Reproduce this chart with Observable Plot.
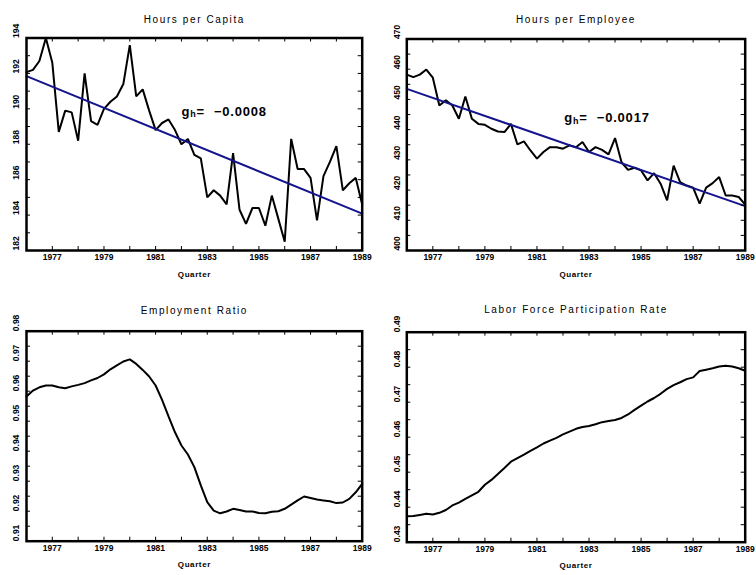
<!DOCTYPE html>
<html><head><meta charset="utf-8">
<script src="https://cdn.jsdelivr.net/npm/d3@7"></script>
<script src="https://cdn.jsdelivr.net/npm/@observablehq/plot@0.6"></script>
<style>
body{margin:0;background:#fff;}
#chart{position:relative;width:756px;height:575px;overflow:hidden;background:#fff;}
.panel{position:absolute;}
</style></head><body><div id="chart"></div>
<script>
// ---- data (quarterly, 1976Q1 .. 1989Q1) ----
const firstYear = 1976;
const quarterCount = 53;
const quarters = d3.range(quarterCount).map(i => firstYear + i / 4);

const hoursPerCapita = [
  192.07, 192.2, 192.7, 194.0,
  192.6, 188.7, 189.9, 189.8,
  188.2, 192.0, 189.3, 189.1,
  190.0, 190.4, 190.7, 191.4,
  193.6, 190.7, 191.1, 189.9,
  188.8, 189.2, 189.4, 188.8,
  188.0, 188.3, 187.4, 187.2,
  185.0, 185.4, 185.1, 184.6,
  187.5, 184.3, 183.5, 184.4,
  184.4, 183.4, 185.1, 183.8,
  182.5, 188.3, 186.6, 186.6,
  186.1, 183.7, 186.2, 187.0,
  187.9, 185.4, 185.8, 186.1,
  184.6
];
const hoursPerEmployee = [
  458.2, 457.4, 458.2, 459.9,
  457.2, 448.0, 449.7, 448.0,
  443.6, 451.0, 443.6, 441.9,
  441.6, 440.3, 439.4, 439.2,
  441.9, 435.1, 436.1, 433.1,
  430.4, 432.6, 434.2, 434.2,
  433.7, 434.8, 434.2, 435.9,
  432.6, 434.2, 433.3, 431.8,
  437.2, 429.2, 426.7, 427.4,
  426.5, 423.2, 425.6, 422.1,
  416.6, 428.1, 422.6, 421.5,
  420.8, 415.5, 420.8, 422.3,
  424.3, 418.2, 418.2, 417.7,
  415.2
];
const employmentRatio = [
  0.9582, 0.9602, 0.9613, 0.9619,
  0.9619, 0.9613, 0.9610, 0.9616,
  0.9621, 0.9627, 0.9636, 0.9644,
  0.9656, 0.9673, 0.9686, 0.9699,
  0.9706, 0.9691, 0.9671, 0.9649,
  0.9619, 0.9571, 0.9516, 0.9463,
  0.9419, 0.9389, 0.9347, 0.9286,
  0.9230, 0.9202, 0.9193, 0.9199,
  0.9208, 0.9204, 0.9199, 0.9199,
  0.9194, 0.9193, 0.9198, 0.9200,
  0.9208, 0.9222, 0.9236, 0.9249,
  0.9244, 0.9239, 0.9236, 0.9233,
  0.9227, 0.9229, 0.9241, 0.9263,
  0.9291
];
const laborForceRate = [
  0.4374, 0.4375, 0.4378, 0.4381,
  0.4379, 0.4384, 0.4392, 0.4405,
  0.4413, 0.4424, 0.4434, 0.4444,
  0.4464, 0.4478, 0.4495, 0.4512,
  0.4530, 0.4540, 0.4550, 0.4561,
  0.4571, 0.4582, 0.4590, 0.4598,
  0.4608, 0.4616, 0.4624, 0.4629,
  0.4632, 0.4637, 0.4643, 0.4646,
  0.4649, 0.4655, 0.4665, 0.4678,
  0.4690, 0.4702, 0.4712, 0.4724,
  0.4738, 0.4749, 0.4757, 0.4766,
  0.4771, 0.4789, 0.4793, 0.4797,
  0.4802, 0.4804, 0.4802, 0.4797,
  0.4790
];

// fitted trend lines (end points)
const trendYears = [1976, 1989];
const trendCapita = [191.85, 184.08];
const trendEmployee = [453.5, 414.7];
const growthCapita = "\u22120.0008";
const growthEmployee = "\u22120.0017";

// axis ticks / labels
const xTickYears = [1977, 1978, 1979, 1980, 1981, 1982, 1983, 1984, 1985, 1986, 1987, 1988];
const xLabelYears = [1977, 1979, 1981, 1983, 1985, 1987, 1989];
const capitaTicks = [183, 184, 185, 186, 187, 188, 189, 190, 191, 192, 193];
const capitaLabels = [182, 184, 186, 188, 190, 192, 194];
const employeeTicks = [405, 410, 415, 420, 425, 430, 435, 440, 445, 450, 455, 460, 465];
const employeeLabels = [400, 410, 420, 430, 440, 450, 460, 470];
const ratioTicks = [0.915, 0.92, 0.925, 0.93, 0.935, 0.94, 0.945, 0.95, 0.955, 0.96, 0.965, 0.97, 0.975];
const ratioLabels = [0.91, 0.92, 0.93, 0.94, 0.95, 0.96, 0.97, 0.98];
const lfpTicks = [0.435, 0.44, 0.445, 0.45, 0.455, 0.46, 0.465, 0.47, 0.475, 0.48, 0.485];
const lfpLabels = [0.43, 0.44, 0.45, 0.46, 0.47, 0.48, 0.49];

// ---- drawing ----
const FONT = '"Liberation Sans", Arial, Helvetica, sans-serif';
const TICK = 4;
const TREND_COLOR = "#14148c";

function makePanel(p) {
  const data = quarters.map((t, i) => ({t, v: p.values[i]}));
  const innerW = p.width - p.ml - p.mr;
  const innerH = p.height - p.mt - p.mb;
  const marks = [
    Plot.line(data, {x: "t", y: "v", stroke: "black", strokeWidth: 2, strokeLinejoin: "miter"})
  ];
  if (p.trend) {
    const td = trendYears.map((t, i) => ({t, v: p.trend[i]}));
    marks.push(Plot.line(td, {x: "t", y: "v", stroke: TREND_COLOR, strokeWidth: 2}));
  }
  marks.push(
    Plot.tickX(xTickYears, {x: d => d, insetTop: innerH - TICK, stroke: "black"}),
    Plot.tickX(xTickYears, {x: d => d, insetBottom: innerH - TICK, stroke: "black"}),
    Plot.tickY(p.yTicks, {y: d => d, insetRight: innerW - TICK, stroke: "black"}),
    Plot.tickY(p.yTicks, {y: d => d, insetLeft: innerW - TICK, stroke: "black"}),
    Plot.frame({stroke: "black", strokeWidth: 2.5}),
    Plot.text(xLabelYears, {x: d => d, frameAnchor: "bottom", dy: 9.5, text: d => String(d),
      fontWeight: "bold", fontSize: 8.5, fill: "black"}),
    Plot.text(p.yLabels, {y: d => d, frameAnchor: "left", dx: -9.8, rotate: -90, text: p.yFormat,
      fontWeight: "bold", fontSize: 8.5, fill: "black"}),
    Plot.text(["Quarter"], {frameAnchor: "bottom", dy: 26, text: d => d,
      fontWeight: "bold", fontSize: 8, fill: "black"}),
    Plot.text([p.title], {frameAnchor: "top", dy: p.titleDy, text: d => d,
      fontSize: 10, fill: "black"})
  );
  if (p.growth) {
    marks.push(Plot.text([p.growth], {x: () => p.growthAt[0], y: () => p.growthAt[1], text: d => d,
      textAnchor: "start", lineAnchor: "bottom", fontWeight: "bold", fontSize: 13, fill: "black"}));
  }
  const svg = Plot.plot({
    width: p.width, height: p.height,
    marginLeft: p.ml, marginRight: p.mr, marginTop: p.mt, marginBottom: p.mb,
    x: {domain: [1976, 1989], axis: null},
    y: {domain: p.yDomain, axis: null},
    style: {fontFamily: FONT, background: "white", overflow: "visible"},
    marks
  });
  const ns = "http://www.w3.org/2000/svg";
  svg.querySelectorAll("text").forEach(t => {
    const s = t.textContent;
    if (s === p.title) {
      t.style.letterSpacing = "1.6px";
    } else if (s === "Quarter") {
      t.style.letterSpacing = "0.6px";
    } else if (p.growth && s === p.growth) {
      // subscripted symbol g_h in front of the growth value
      t.textContent = "";
      t.style.letterSpacing = "0.8px";
      const add = (str, attrs) => {
        const ts = document.createElementNS(ns, "tspan");
        ts.textContent = str;
        for (const k in attrs) ts.setAttribute(k, attrs[k]);
        t.appendChild(ts);
      };
      add("g", {});
      add("h", {"font-size": "9", dy: "1.5"});
      add("=", {dy: "-1.5"});
      add(s, {dx: "9"});
    }
  });
  const div = document.createElement("div");
  div.className = "panel";
  div.style.left = p.left + "px";
  div.style.top = p.top + "px";
  div.appendChild(svg);
  document.getElementById("chart").appendChild(div);
}

makePanel({
  left: 0, top: 0, width: 378, height: 287, ml: 26, mr: 16.3, mt: 37.5, mb: 37,
  title: "Hours per Capita", titleDy: -22.2,
  values: hoursPerCapita, yDomain: [182, 194], yTicks: capitaTicks, yLabels: capitaLabels,
  yFormat: d => String(d), trend: trendCapita,
  growth: growthCapita, growthAt: [1982.0, 189.62]
});
makePanel({
  left: 378, top: 0, width: 378, height: 287, ml: 28.3, mr: 11.3, mt: 38.5, mb: 37,
  title: "Hours per Employee", titleDy: -23.2,
  values: hoursPerEmployee, yDomain: [400, 470], yTicks: employeeTicks, yLabels: employeeLabels,
  yFormat: d => String(d), trend: trendEmployee,
  growth: growthEmployee, growthAt: [1982.05, 442.5]
});
makePanel({
  left: 0, top: 287, width: 378, height: 288, ml: 26, mr: 16.3, mt: 43.7, mb: 34.3,
  title: "Employment Ratio", titleDy: -24.4,
  values: employmentRatio, yDomain: [0.91, 0.98], yTicks: ratioTicks, yLabels: ratioLabels,
  yFormat: d => d.toFixed(2)
});
makePanel({
  left: 378, top: 287, width: 378, height: 288, ml: 28.3, mr: 11.3, mt: 44.7, mb: 33.3,
  title: "Labor Force Participation Rate", titleDy: -26,
  values: laborForceRate, yDomain: [0.43, 0.49], yTicks: lfpTicks, yLabels: lfpLabels,
  yFormat: d => d.toFixed(2)
});
</script></body></html>
